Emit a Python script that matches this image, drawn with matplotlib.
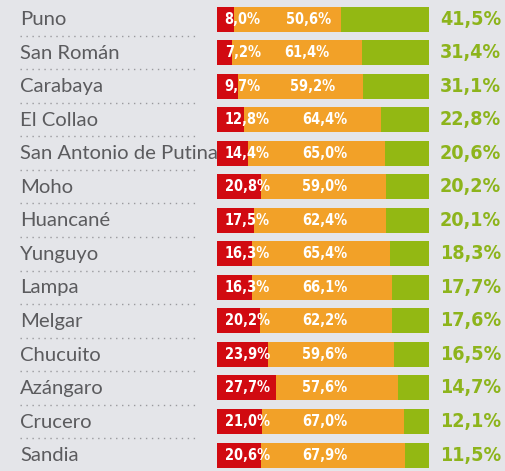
import matplotlib
matplotlib.use("Agg")
import matplotlib.pyplot as plt
import matplotlib.transforms as mtransforms
from matplotlib import font_manager as fm
from matplotlib.textpath import TextPath
import numpy as np

categories = ["Puno", "San Román", "Carabaya", "El Collao", "San Antonio de Putina",
              "Moho", "Huancané", "Yunguyo", "Lampa", "Melgar", "Chucuito",
              "Azángaro", "Crucero", "Sandia"]
red_vals = [8.0, 7.2, 9.7, 12.8, 14.4, 20.8, 17.5, 16.3, 16.3, 20.2, 23.9, 27.7, 21.0, 20.6]
orange_vals = [50.6, 61.4, 59.2, 64.4, 65.0, 59.0, 62.4, 65.4, 66.1, 62.2, 59.6, 57.6, 67.0, 67.9]
green_vals = [41.5, 31.4, 31.1, 22.8, 20.6, 20.2, 20.1, 18.3, 17.7, 17.6, 16.5, 14.7, 12.1, 11.5]

BG = "#e4e5e9"
RED = "#d10a11"
ORANGE = "#f2a128"
GREEN = "#93b813"
GREEN_TXT = "#8db41c"
GRAY_TXT = "#5b5b5e"

# pick a condensed bold font if one is installed, otherwise Roboto Bold
cond = None
for f in fm.fontManager.ttflist:
    nm = f.name.lower()
    if ("narrow" in nm or "condensed" in nm or str(f.stretch) in ("condensed", "semi-condensed")) \
            and str(f.weight) in ("bold", "700") and f.style == "normal":
        cond = f.fname
        break
if cond is None:
    cond = fm.findfont(fm.FontProperties(family="Roboto", weight="bold"))
prop = fm.FontProperties(fname=cond)


def fit_size(text, target_px):
    w = TextPath((0, 0), text, size=1, prop=prop).get_extents().width
    return target_px * 0.72 / w


W, H = 505, 471
fig = plt.figure(figsize=(W / 100, H / 100), dpi=100, facecolor=BG)

n = len(categories)
row = (455 - 19) / (n - 1)
top_px = 19 - row / 2
bot_px = 455 + row / 2
ax = fig.add_axes([217 / W, 1 - bot_px / H, 212 / W, (bot_px - top_px) / H])
ax.set_facecolor("none")
ax.set_xlim(0, 100)
ax.set_ylim(n - 0.5, -0.5)
ax.axis("off")

y = np.arange(n)
red = np.array(red_vals)
orange = np.array(orange_vals)
green = np.array(green_vals)
bh = 25 / row
ax.barh(y, red, height=bh, color=RED, linewidth=0, zorder=2)
ax.barh(y, orange, left=red, height=bh, color=ORANGE, linewidth=0, zorder=2)
ax.barh(y, green, left=red + orange, height=bh, color=GREEN, linewidth=0, zorder=2)

fs_small = fit_size("50,6%", 44)
fs_big = fit_size("41,5%", 60)

orange_pos = np.where(red < 12, red + 24.5, 40.0)
for i in range(n):
    ax.text(3.6, i, f"{red_vals[i]:.1f}%".replace(".", ","), color="white",
            fontproperties=prop, fontsize=fs_small, ha="left", va="center", zorder=3)
    ax.text(orange_pos[i], i, f"{orange_vals[i]:.1f}%".replace(".", ","), color="white",
            fontproperties=prop, fontsize=fs_small, ha="left", va="center", zorder=3)

trans = mtransforms.blended_transform_factory(fig.transFigure, ax.transData)
for i in range(n):
    ax.text(501 / W, i, f"{green_vals[i]:.1f}%".replace(".", ","), color=GREEN_TXT,
            fontproperties=prop, fontsize=fs_big, ha="right", va="center",
            transform=trans, zorder=3)
    ax.text(20 / W, i + 0.02, categories[i], color=GRAY_TXT, fontsize=14.6,
            ha="left", va="center", transform=trans, zorder=1,
            family=["Lato", "DejaVu Sans"])
    if i < n - 1:
        ax.plot([20 / W, 198 / W], [i + 0.5, i + 0.5], transform=trans,
                color="#9a9a9e", linewidth=1.0, linestyle=(0, (1, 3.3)),
                clip_on=False, zorder=1)

fig.savefig("out.png", dpi=100, facecolor=BG)
